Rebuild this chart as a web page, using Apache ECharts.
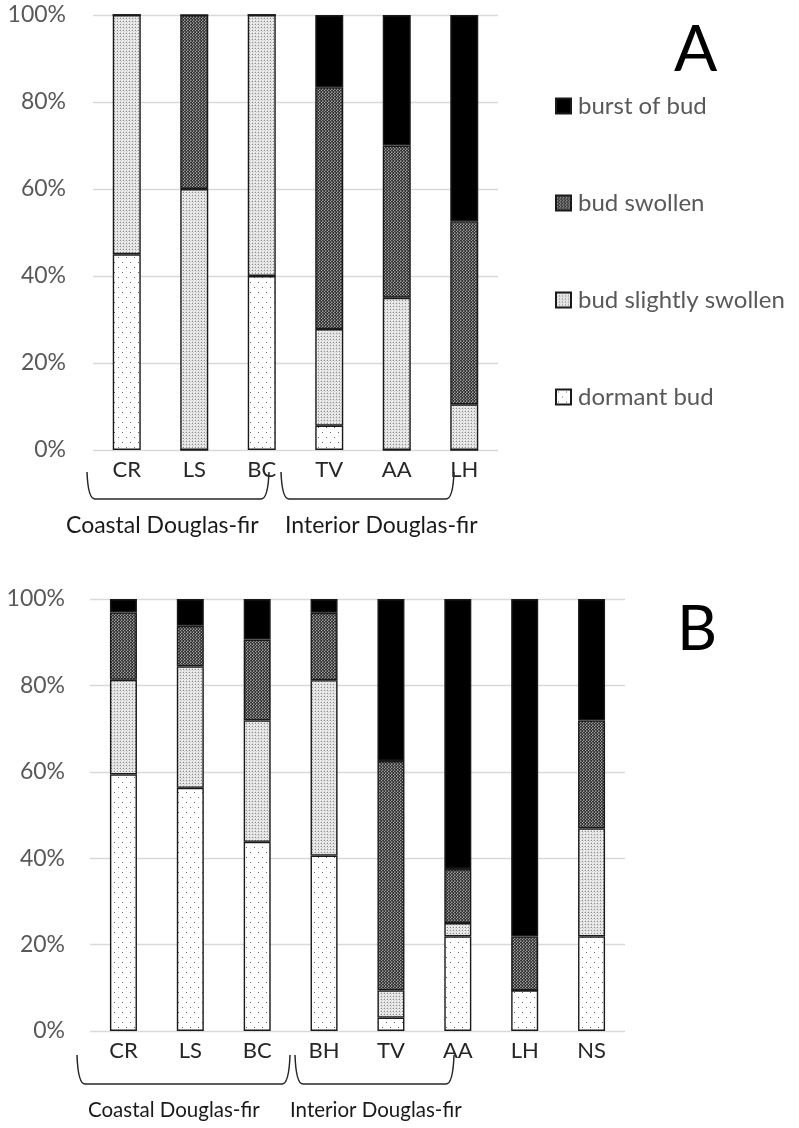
<!DOCTYPE html>
<html>
<head>
<meta charset="utf-8">
<script src="https://cdn.jsdelivr.net/npm/echarts@6/dist/echarts.min.js"></script>
<style>
html,body{margin:0;padding:0;background:#fff;}
#main{width:799px;height:1128px;}
</style>
</head>
<body>
<div id="main"></div>
<script>
// ---- data ----
const stageNames = ['dormant bud', 'bud slightly swollen', 'bud swollen', 'burst of bud'];
const legendOrder = ['burst of bud', 'bud swollen', 'bud slightly swollen', 'dormant bud'];
const yTicks = [0, 20, 40, 60, 80, 100];

const catsA = ['CR', 'LS', 'BC', 'TV', 'AA', 'LH'];
const dormantA = [45, 0, 40, 5.6, 0, 0];
const slightA = [55, 60, 60, 22.2, 35, 10.5];
const swollenA = [0, 40, 0, 55.6, 35, 42.1];
const burstA = [0, 0, 0, 16.6, 30, 47.4];

const catsB = ['CR', 'LS', 'BC', 'BH', 'TV', 'AA', 'LH', 'NS'];
const dormantB = [59.4, 56.3, 43.8, 40.6, 3.1, 21.9, 9.4, 21.9];
const slightB = [21.9, 28.1, 28.1, 40.6, 6.3, 3.1, 0, 25];
const swollenB = [15.6, 9.4, 18.7, 15.6, 53.1, 12.5, 12.5, 25];
const burstB = [3.1, 6.2, 9.4, 3.2, 37.5, 62.5, 78.1, 28.1];

const groupsA = ['Coastal Douglas-fir', 'Interior Douglas-fir'];
const groupsB = ['Coastal Douglas-fir', 'Interior Douglas-fir'];

// ---- patterns ----
function makePattern(w, h, bg, dots) {
  const c = document.createElement('canvas');
  c.width = w; c.height = h;
  const ctx = c.getContext('2d');
  ctx.fillStyle = bg; ctx.fillRect(0, 0, w, h);
  dots.forEach(d => { ctx.fillStyle = d[2]; ctx.fillRect(d[0], d[1], 1, 1); });
  return { image: c, repeat: 'repeat' };
}
const patDormant = makePattern(8, 10, '#ffffff', [[2, 2, '#666'], [6, 7, '#666']]);
const patSlight = makePattern(3, 3, '#efefef', [[0, 0, '#8a8a8a'], [1, 1, '#c8c8c8'], [2, 0, '#d0d0d0'], [0, 2, '#d0d0d0']]);
const patSwollen = makePattern(3, 3, '#333333', [[0, 0, '#a8a8a8'], [1, 1, '#777'], [2, 1, '#555'], [1, 2, '#999'], [2, 2, '#575757']]);
const fills = {
  'dormant bud': patDormant,
  'bud slightly swollen': patSlight,
  'bud swollen': patSwollen,
  'burst of bud': '#000000'
};

const FONT = 'Lato, "Open Sans", sans-serif';
const chart = echarts.init(document.getElementById('main'), null, { renderer: 'canvas' });

function mkSeries(idx, stack, arrs, bw) {
  return stageNames.map((nm, i) => ({
    name: nm,
    type: 'bar',
    stack: stack,
    xAxisIndex: idx,
    yAxisIndex: idx,
    barWidth: bw,
    data: arrs[i],
    itemStyle: { color: fills[nm], borderColor: '#1a1a1a', borderWidth: 1.4 },
    emphasis: { disabled: true },
    animation: false
  }));
}

const yAxisBase = (gi, margin) => ({
  type: 'value', gridIndex: gi, min: 0, max: 100, interval: 20,
  axisLine: { show: false }, axisTick: { show: false },
  splitLine: { lineStyle: { color: '#d9d9d9', width: 1.3 } },
  axisLabel: { formatter: '{value}%', color: '#595959', fontSize: 23, fontFamily: FONT, margin: margin }
});
const xAxisBase = (gi, cats) => ({
  type: 'category', gridIndex: gi, data: cats,
  axisLine: { show: false }, axisTick: { show: false },
  axisLabel: { color: '#262626', fontSize: 22, fontFamily: FONT, margin: 9 }
});

function brace(x1, x2, yt, yb) {
  const st = { stroke: '#262626', lineWidth: 1.5, fill: null };
  return [
    { type: 'bezierCurve', shape: { x1: x1, y1: yt, x2: x1 + 8, y2: yb, cpx1: x1 + 1, cpy1: yb }, style: st },
    { type: 'line', shape: { x1: x1 + 8, y1: yb, x2: x2 - 8, y2: yb }, style: st },
    { type: 'bezierCurve', shape: { x1: x2 - 8, y1: yb, x2: x2, y2: yt, cpx1: x2 - 1, cpy1: yb }, style: st }
  ];
}

const option = {
  backgroundColor: '#ffffff',
  animation: false,
  grid: [
    { left: 93, top: 15, width: 405, height: 435 },
    { left: 90, top: 599, width: 535, height: 432 }
  ],
  legend: {
    data: legendOrder,
    orient: 'vertical',
    left: 550, top: 89,
    itemWidth: 15, itemHeight: 15, itemGap: 73,
    icon: 'rect',
    selectedMode: false,
    textStyle: { color: '#595959', fontSize: 24, lineHeight: 20, fontFamily: FONT, padding: [0, 0, 0, 2] }
  },
  xAxis: [xAxisBase(0, catsA), xAxisBase(1, catsB)],
  yAxis: [yAxisBase(0, 27), yAxisBase(1, 25)],
  series: [].concat(
    mkSeries(0, 'A', [dormantA, slightA, swollenA, burstA], 28),
    mkSeries(1, 'B', [dormantB, slightB, swollenB, burstB], 27)
  ),
  graphic: [].concat(
    [
      { type: 'text', left: 674, top: 18, style: { text: 'A', fontSize: 64, fontFamily: FONT, fill: '#000' } },
      { type: 'text', left: 677, top: 599, style: { text: 'B', fontSize: 62, fontFamily: FONT, fill: '#000' } },
      { type: 'text', left: 66, top: 514, style: { text: groupsA[0], fontSize: 23, fontFamily: FONT, fill: '#1a1a1a' } },
      { type: 'text', left: 285, top: 514, style: { text: groupsA[1], fontSize: 23, fontFamily: FONT, fill: '#1a1a1a' } },
      { type: 'text', left: 88, top: 1100, style: { text: groupsB[0], fontSize: 20.5, fontFamily: FONT, fill: '#1a1a1a' } },
      { type: 'text', left: 290, top: 1100, style: { text: groupsB[1], fontSize: 20.5, fontFamily: FONT, fill: '#1a1a1a' } }
    ],
    brace(87, 269, 472, 499),
    brace(281, 454, 472, 499),
    brace(77, 290, 1055, 1084),
    brace(295, 454, 1055, 1084)
  )
};
chart.setOption(option);
</script>
</body>
</html>
